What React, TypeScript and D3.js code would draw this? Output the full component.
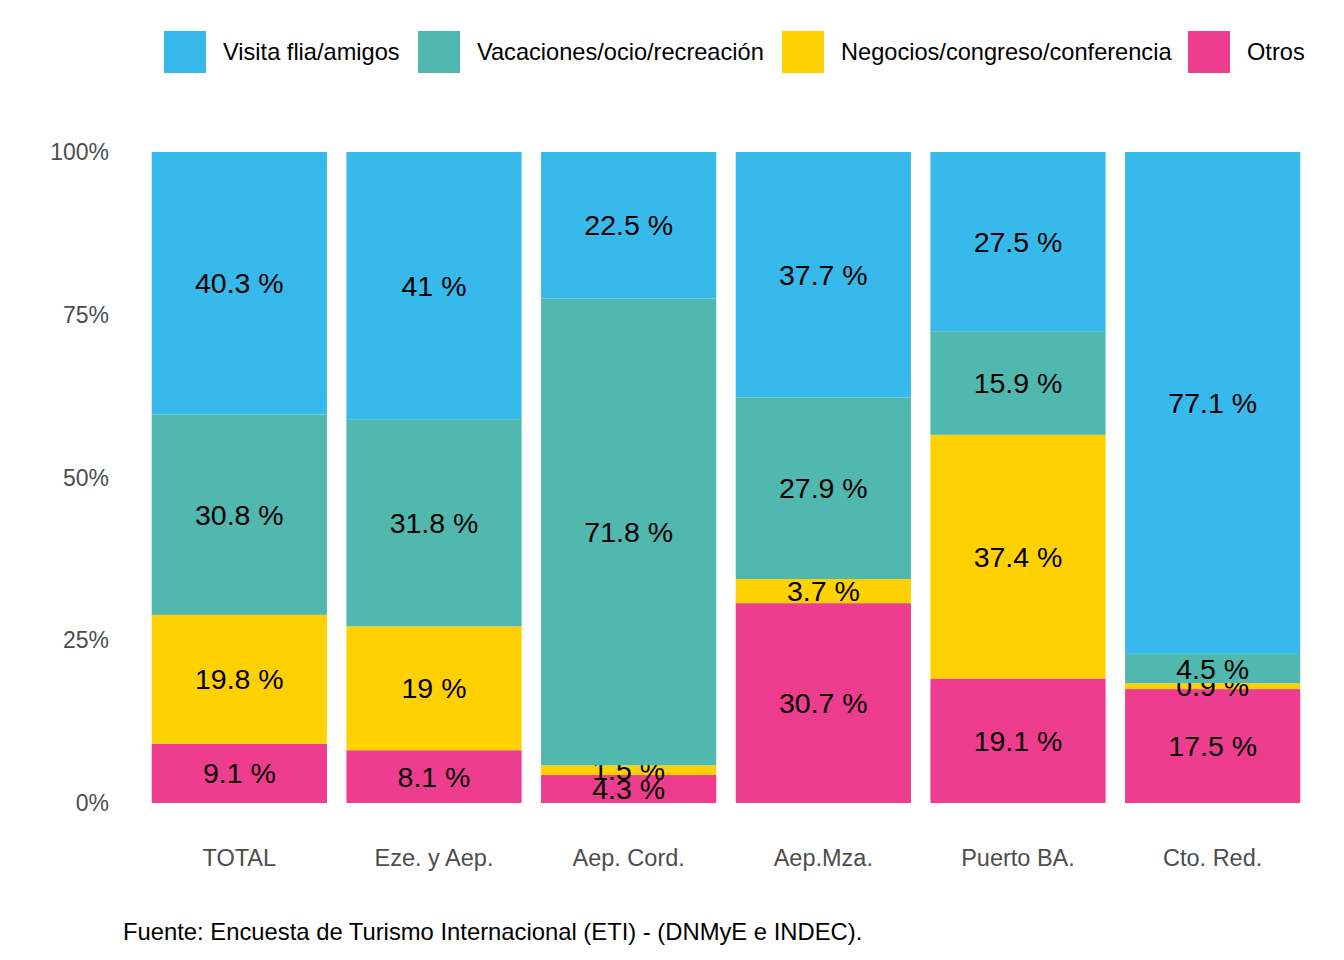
import * as d3 from "d3";

const categories = ["TOTAL", "Eze. y Aep.", "Aep. Cord.", "Aep.Mza.", "Puerto BA.", "Cto. Red."];
const seriesNames = ["Visita flia/amigos", "Vacaciones/ocio/recreación", "Negocios/congreso/conferencia", "Otros"];
const colors = ["#38B9EB", "#51B8B0", "#FFD100", "#EE3D8F"];
const visita = [40.3, 41, 22.5, 37.7, 27.5, 77.1];
const vacaciones = [30.8, 31.8, 71.8, 27.9, 15.9, 4.5];
const negocios = [19.8, 19, 1.5, 3.7, 37.4, 0.9];
const otros = [9.1, 8.1, 4.3, 30.7, 19.1, 17.5];
const yTicks = [0, 0.25, 0.5, 0.75, 1];
const legendX = [164, 418, 782, 1188];

export default function App() {
  const width = 1344, height = 960;
  const x = d3.scaleBand().domain(categories).range([142, 1310]).paddingInner(0.1).paddingOuter(0.05);
  const y = d3.scaleLinear().domain([0, 1]).range([803, 152]);
  const series = [visita, vacaciones, negocios, otros];
  const font = "Liberation Sans, Arial, sans-serif";

  const marks: JSX.Element[] = [];
  categories.forEach((c, i) => {
    const total = series.reduce((s, a) => s + a[i], 0);
    let acc = 0;
    // stack from bottom: Otros, Negocios, Vacaciones, Visita
    for (let k = series.length - 1; k >= 0; k--) {
      const v = series[k][i];
      const y0 = acc / total;
      const y1 = (acc + v) / total;
      acc += v;
      marks.push(
        <rect key={`r${i}${k}`} x={x(c)} width={x.bandwidth()} y={y(y1)} height={y(y0) - y(y1)} fill={colors[k]} />
      );
      marks.push(
        <text key={`t${i}${k}`} x={x(c)! + x.bandwidth() / 2} y={y((y0 + y1) / 2)} dy="0.35em"
          textAnchor="middle" fontSize={28.5} fill="#000">{`${v} %`}</text>
      );
    }
  });

  return (
    <svg width={width} height={height} style={{ display: "block", margin: -8 }} fontFamily={font}>
      <rect width={width} height={height} fill="#fff" />
      {seriesNames.map((n, k) => (
        <g key={n}>
          <rect x={legendX[k]} y={31} width={42} height={42} fill={colors[k]} />
          <text x={legendX[k] + 59} y={52} dy="0.35em" fontSize={23.6} fill="#000">{n}</text>
        </g>
      ))}
      {yTicks.map((t) => (
        <text key={t} x={109} y={y(t)} dy="0.35em" textAnchor="end" fontSize={23} fill="#4d4d4d">
          {d3.format(".0%")(t)}
        </text>
      ))}
      {marks}
      {categories.map((c) => (
        <text key={c} x={x(c)! + x.bandwidth() / 2} y={858} dy="0.35em" textAnchor="middle" fontSize={23.5} fill="#4d4d4d">{c}</text>
      ))}
      <text x={123} y={932} dy="0.35em" fontSize={23.8} fill="#000">
        Fuente: Encuesta de Turismo Internacional (ETI) - (DNMyE e INDEC).
      </text>
    </svg>
  );
}
